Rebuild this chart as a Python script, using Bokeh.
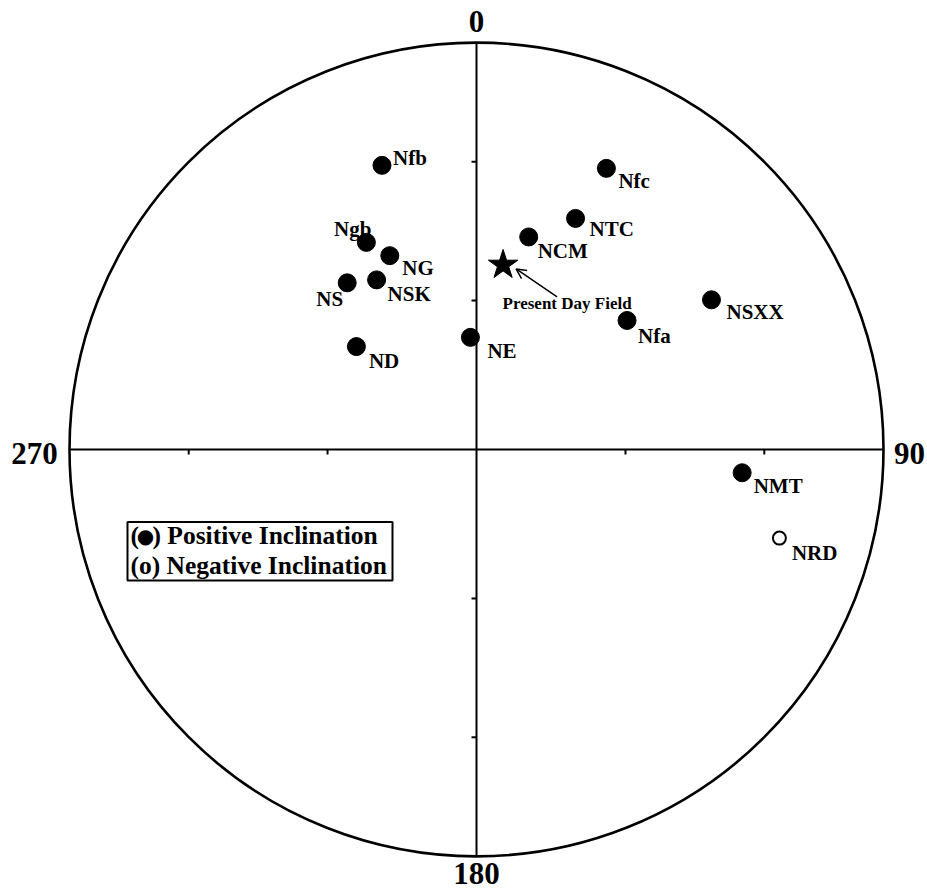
import numpy as np
from bokeh.plotting import figure
from bokeh.models import Arrow, OpenHead, Range1d, ColumnDataSource
from bokeh.core.properties import value
from bokeh.embed import file_html
from bokeh.resources import INLINE

# ---------------- data ----------------
sites = ["Nfb", "Nfc", "NTC", "NCM", "Ngb", "NG", "NSK", "NS",
         "NSXX", "Nfa", "NE", "ND", "NMT", "NRD"]
declination = [341.6, 24.8, 23.2, 13.8, 332.0, 335.9, 329.5, 322.2,
               57.5, 49.4, 356.9, 310.6, 95.0, 106.3]
inclination = [27.3, 24.9, 38.2, 45.3, 41.9, 46.7, 50.0, 47.0,
               32.1, 49.7, 67.5, 58.1, 34.8, -23.5]

present_field_dec = 8.2
present_field_inc = 52.2
present_field_label = "Present Day Field"

dial_labels = ["0", "90", "180", "270"]
dial_azimuths = [0, 90, 180, 270]
tick_inclinations = [30, 60]
legend_open_paren = "("
legend_dot = "\u25cf"
legend_line1_rest = ") Positive Inclination"
legend_line2 = "(o) Negative Inclination"

# ---------------- layout / style ----------------
W, H = 927, 892
CX, CY = 476, 449          # centre of the net in figure pixels
PX = 407                   # pixels per unit radius
FONT = value("Liberation Serif")

# label placement (pixels: dx right, dy down), per site
label_dx = [11, 12, 14, 9, 5, 12.5, 11, -4, 15, 11, 17, 12.5, 11.5, 12.5]
label_dy = [-7.5, 13, 11, 14.5, -13.5, 12, 14, 16, 12, 16, 14, 14, 13.5, 15]
label_align = ["left", "left", "left", "left", "right", "left", "left", "right",
               "left", "left", "left", "left", "left", "left"]


def project(dec, inc):
    """Lambert equal-area (Schmidt) projection, unit primitive circle."""
    d = np.radians(np.asarray(dec, dtype=float))
    i = np.abs(np.asarray(inc, dtype=float))
    r = np.sqrt(2.0) * np.sin(np.radians(90.0 - i) / 2.0)
    return r * np.sin(d), r * np.cos(d)


def to_data(xp, yp):
    return (xp - CX) / PX, (CY - yp) / PX


p = figure(width=W, height=H, output_backend="svg", toolbar_location=None,
           x_axis_type=None, y_axis_type=None, min_border=0,
           x_range=Range1d(-CX / PX, (W - CX) / PX),
           y_range=Range1d((CY - H) / PX, CY / PX))
p.outline_line_color = None
p.grid.visible = False
p.background_fill_color = "white"
p.border_fill_color = "white"

# primitive circle
p.circle(x=[0], y=[0], radius=1.0, fill_color=None, line_color="black", line_width=2.6)

# cross-hair axes
p.segment(x0=[-1, 0], y0=[0, -1], x1=[1, 0], y1=[0, 1], line_color="black", line_width=2)

# inclination ticks (30 and 60 degrees) on the four axes
tl = 5.0 / PX
tx0, ty0, tx1, ty1 = [], [], [], []
for inc in tick_inclinations:
    for az in dial_azimuths:
        x, y = project(az, inc)
        x, y = float(x), float(y)
        if az in (0, 180):      # vertical axis: tick to the left
            tx0.append(x - tl); ty0.append(y); tx1.append(x); ty1.append(y)
        else:                   # horizontal axis: tick downward
            tx0.append(x); ty0.append(y - tl); tx1.append(x); ty1.append(y)
p.segment(x0=tx0, y0=ty0, x1=tx1, y1=ty1, line_color="black", line_width=2)

# dial labels
dial_dx = [0, 26, 0, -35]
dial_dy = [-21, 3.5, 17, 4]
dx_, dy_ = [], []
for az in dial_azimuths:
    dx_.append(float(np.sin(np.radians(az))))
    dy_.append(float(np.cos(np.radians(az))))
p.text(x=dx_, y=dy_, text=dial_labels, x_offset=dial_dx, y_offset=dial_dy,
       text_align="center", text_baseline="middle", text_font=FONT,
       text_font_style="bold", text_font_size="31px", text_color="black")

# site directions
xs, ys = project(declination, inclination)
positive = [i >= 0 for i in inclination]
src = ColumnDataSource(dict(
    x=xs, y=ys, name=sites,
    fill=["black" if s else "white" for s in positive],
    size=[18 if s else 13 for s in positive],
    lw=[1 if s else 2 for s in positive],
))
p.scatter(x="x", y="y", size="size", fill_color="fill", line_color="black",
          line_width="lw", source=src)

left_idx = [k for k, a in enumerate(label_align) if a == "left"]
right_idx = [k for k, a in enumerate(label_align) if a == "right"]
for idx, align in ((left_idx, "left"), (right_idx, "right")):
    p.text(x=[float(xs[k]) for k in idx], y=[float(ys[k]) for k in idx],
           text=[sites[k] for k in idx],
           x_offset=[label_dx[k] for k in idx], y_offset=[label_dy[k] for k in idx],
           text_align=align, text_baseline="middle", text_font=FONT,
           text_font_style="bold", text_font_size="21px", text_color="black")

# present day field
sx, sy = project([present_field_dec], [present_field_inc])
sx, sy = float(sx[0]), float(sy[0])
p.scatter(x=[sx], y=[sy], marker="star", size=31, fill_color="black", line_color="black")
p.add_layout(Arrow(end=OpenHead(size=10, line_width=1.5, line_color="black"),
                   x_start=sx + 54 / PX, y_start=sy - 32 / PX,
                   x_end=sx + 13 / PX, y_end=sy - 4 / PX,
                   line_width=1.5, line_color="black"))
p.text(x=[sx], y=[sy], text=[present_field_label], x_offset=[64], y_offset=[38.5],
       text_align="center", text_baseline="middle", text_font=FONT,
       text_font_style="bold", text_font_size="17px", text_color="black")

# legend box
l, t = to_data(127, 521.5)
r, b = to_data(392, 580)
p.quad(left=[l], right=[r], top=[t], bottom=[b], fill_color="white",
       line_color="black", line_width=2)
x0, y1 = to_data(130, 535)
xd, _ = to_data(145, 535)
xr, _ = to_data(152, 535)
_, y2 = to_data(130, 565)
p.text(x=[x0, xr, x0], y=[y1, y1, y2],
       text=[legend_open_paren, legend_line1_rest, legend_line2], text_align="left",
       text_baseline="middle", text_font=FONT, text_font_style="bold",
       text_font_size="25.5px", text_color="black")
p.text(x=[xd], y=[y1], text=[legend_dot], text_align="center", text_baseline="middle",
       text_font=value("DejaVu Sans"), text_font_size="20px", text_color="black")

open("out.html", "w").write(file_html(p, INLINE))
